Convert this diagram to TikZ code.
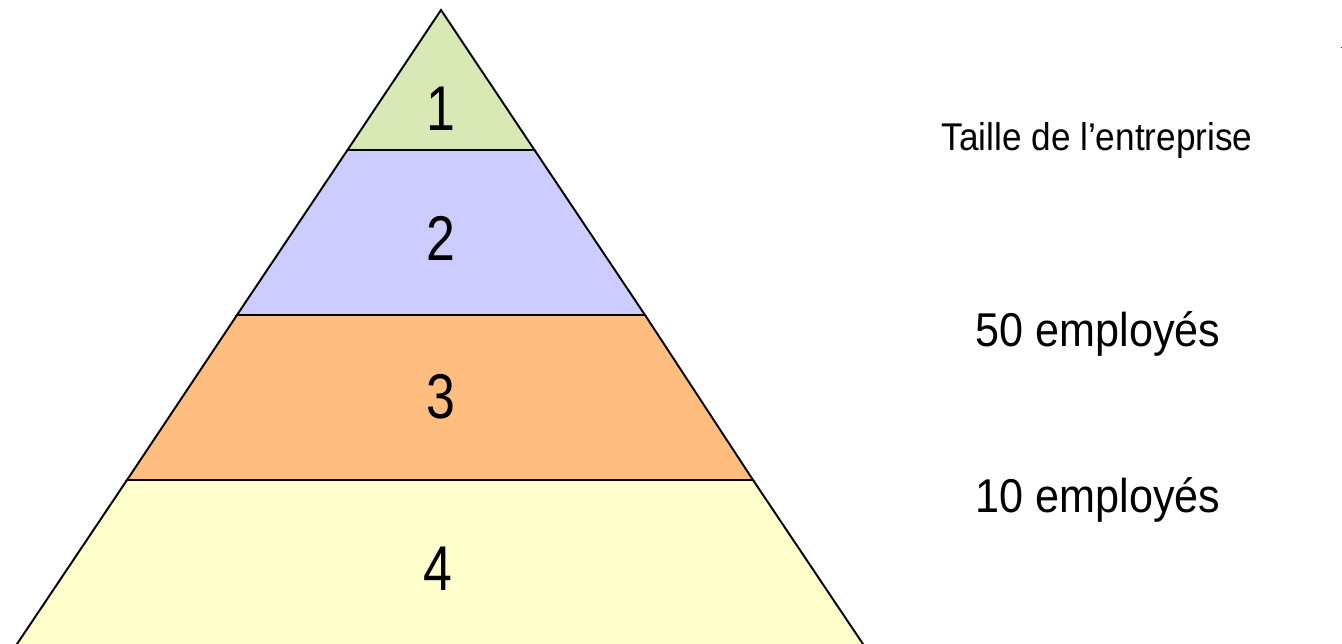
\documentclass[tikz,border=0pt]{standalone}
\usepackage{fontspec}
\setmainfont{Liberation Sans}[FakeStretch=0.82]
\newfontfamily\legfont{Liberation Sans}[FakeStretch=0.91]
\usetikzlibrary{arrows.meta}
\definecolor{niveauA}{HTML}{D8E9B6}
\definecolor{niveauB}{HTML}{CCCCFF}
\definecolor{niveauC}{HTML}{FFBD80}
\definecolor{niveauD}{HTML}{FFFFCC}
\tikzset{
    niveau/.style={draw=black, line width=1.1pt, line join=miter},
    chiffre/.style={anchor=base, inner sep=0pt, font=\fontsize{36pt}{36pt}\selectfont},
    legende/.style={anchor=base, inner sep=0pt, font=\legfont\fontsize{27pt}{29pt}\selectfont}
}
\begin{document}
\begin{tikzpicture}[x=0.02cm, y=-0.02cm]
    \useasboundingbox (0,0) rectangle (1342,643);
    % Coordinate
    \coordinate (S) at (441,10);
    \coordinate (G1) at (347.5,150);  \coordinate (D1) at (534.5,150);
    \coordinate (G2) at (237,315);    \coordinate (D2) at (645,315);
    \coordinate (G3) at (127,480);    \coordinate (D3) at (753,480);
    \coordinate (G4) at (13,650);     \coordinate (D4) at (867,650);
    % Niveaux
    \filldraw [niveau, fill=niveauD] (G3) -- (D3) -- (D4) -- (G4) -- cycle;
    \filldraw [niveau, fill=niveauC] (G2) -- (D2) -- (D3) -- (G3) -- cycle;
    \filldraw [niveau, fill=niveauB] (G1) -- (D1) -- (D2) -- (G2) -- cycle;
    \filldraw [niveau, fill=niveauA] (S) -- (D1) -- (G1) -- cycle;
    % Chiffres
    \node [chiffre] (n1) at (441,130) {1};
    \node [chiffre] (n2) at (441,260) {2};
    \node [chiffre] (n3) at (441,418) {3};
    \node [chiffre] (n4) at (438,590) {4};
    % Legendes
    \node [legende, font=\legfont\fontsize{22pt}{24pt}\selectfont] (taille) at (1097,150) {Taille de l’entreprise};
    \node [legende] (cinquante) at (1098,346) {50 employés};
    \node [legende] (dix) at (1098,512) {10 employés};
    % Fleche (coupee)
    \coordinate (Fbas) at (1348,300);
    \coordinate (Fhaut) at (1348,32);
    \draw [-{Latex[length=9pt,width=8pt]}, line width=1pt] (Fbas) -- (Fhaut);
\end{tikzpicture}
\end{document}
